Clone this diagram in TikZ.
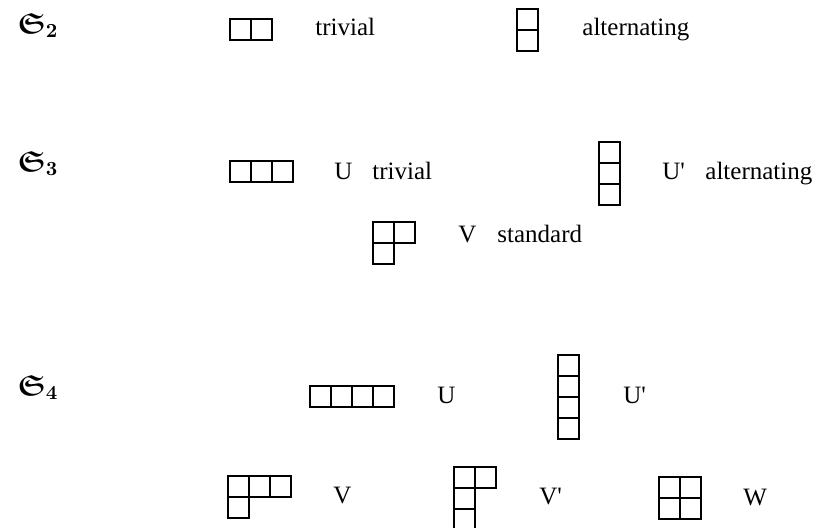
\documentclass[tikz,border=0pt,12pt]{standalone}
\usepackage{amsmath}
\usepackage{amssymb}
\usepackage{fontspec}
\setmainfont{Liberation Serif}
\usetikzlibrary{positioning}

\begin{document}
\begin{tikzpicture}[
    x=0.5pt, y=-0.5pt,
    cell/.style={rectangle, draw=black, line width=1pt, minimum size=10.5pt, inner sep=0pt, outer sep=0pt},
    first/.style={cell, anchor=north west},
    label/.style={anchor=base west, inner sep=0pt, font=\fontsize{12.5}{14}\selectfont},
    group/.style={anchor=base west, inner sep=0pt, font=\fontsize{14.5}{16}\selectfont\boldmath}
]
\useasboundingbox (0,0) rectangle (829,527);

% S_2
\node (g2) [group] at (17,33) {$\mathfrak{S}_2$};
\node (t2a) [first] at (230,19) {};
\node (t2b) [cell, right=0pt of t2a] {};
\node (t2lab) [label] at (315,35) {trivial};
\node (a2a) [first] at (517,9) {};
\node (a2b) [cell, below=0pt of a2a] {};
\node (a2lab) [label] at (582,35) {alternating};

% S_3
\node (g3) [group] at (17,171) {$\mathfrak{S}_3$};
\node (u3a) [first] at (230,161) {};
\node (u3b) [cell, right=0pt of u3a] {};
\node (u3c) [cell, right=0pt of u3b] {};
\node (u3name) [label] at (334,179) {U};
\node (u3lab) [label] at (372,179) {trivial};
\node (up3a) [first] at (599,142) {};
\node (up3b) [cell, below=0pt of up3a] {};
\node (up3c) [cell, below=0pt of up3b] {};
\node (up3name) [label] at (662,179) {U\textquotesingle};
\node (up3lab) [label] at (705,179) {alternating};
\node (v3a) [first] at (373,222) {};
\node (v3b) [cell, right=0pt of v3a] {};
\node (v3c) [cell, below=0pt of v3a] {};
\node (v3name) [label] at (458,242) {V};
\node (v3lab) [label] at (497,242) {standard};

% S_4
\node (g4) [group] at (17,395) {$\mathfrak{S}_4$};
\node (u4a) [first] at (310,386) {};
\node (u4b) [cell, right=0pt of u4a] {};
\node (u4c) [cell, right=0pt of u4b] {};
\node (u4d) [cell, right=0pt of u4c] {};
\node (u4name) [label] at (437,403) {U};
\node (up4a) [first] at (558,355) {};
\node (up4b) [cell, below=0pt of up4a] {};
\node (up4c) [cell, below=0pt of up4b] {};
\node (up4d) [cell, below=0pt of up4c] {};
\node (up4name) [label] at (623,403) {U\textquotesingle};
\node (v4a) [first] at (228,476) {};
\node (v4b) [cell, right=0pt of v4a] {};
\node (v4c) [cell, right=0pt of v4b] {};
\node (v4d) [cell, below=0pt of v4a] {};
\node (v4name) [label] at (333,503) {V};
\node (vp4a) [first] at (454,467) {};
\node (vp4b) [cell, right=0pt of vp4a] {};
\node (vp4c) [cell, below=0pt of vp4a] {};
\node (vp4d) [cell, below=0pt of vp4c] {};
\node (vp4name) [label] at (539,504) {V\textquotesingle};
\node (w4a) [first] at (659,477) {};
\node (w4b) [cell, right=0pt of w4a] {};
\node (w4c) [cell, below=0pt of w4a] {};
\node (w4d) [cell, right=0pt of w4c] {};
\node (w4name) [label] at (743,505) {W};

\end{tikzpicture}
\end{document}
